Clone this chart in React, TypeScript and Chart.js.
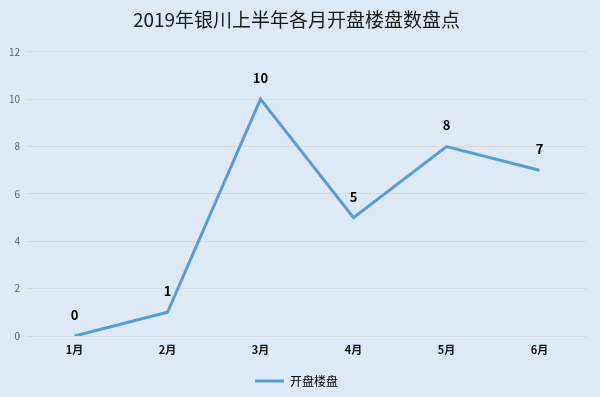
import React, { useEffect, useRef } from "react";
import { Chart, registerables } from "chart.js";

Chart.register(...registerables);

const categories = ["1月", "2月", "3月", "4月", "5月", "6月"];
const seriesName = "开盘楼盘";
const seriesValues = [0, 1, 10, 5, 8, 7];
const titleText = "2019年银川上半年各月开盘楼盘数盘点";

const FONT = "'Noto Sans CJK SC', 'Noto Sans', sans-serif";
const LINE_COLOR = "#5b9bd5";
const BG = "#dde9f5";

const bgPlugin = {
  id: "bgFill",
  beforeDraw(chart: any) {
    const { ctx, width, height } = chart;
    ctx.save();
    ctx.fillStyle = BG;
    ctx.fillRect(0, 0, width, height);
    ctx.restore();
  },
};

const labelPlugin = {
  id: "pointLabels",
  afterDatasetsDraw(chart: any) {
    const { ctx } = chart;
    const meta = chart.getDatasetMeta(0);
    const data = chart.data.datasets[0].data;
    ctx.save();
    ctx.font = `bold 13px ${FONT}`;
    ctx.fillStyle = "#000";
    ctx.textAlign = "center";
    ctx.textBaseline = "middle";
    meta.data.forEach((pt: any, i: number) => {
      ctx.fillText(String(data[i]), pt.x, pt.y - 21);
    });
    ctx.restore();
  },
};

export default function App() {
  const ref = useRef<HTMLCanvasElement | null>(null);
  useEffect(() => {
    document.body.style.margin = "0";
    const canvas = ref.current!;
    const chart = new Chart(canvas, {
      type: "line",
      data: {
        labels: categories,
        datasets: [
          {
            label: seriesName,
            data: seriesValues,
            borderColor: LINE_COLOR,
            backgroundColor: LINE_COLOR,
            borderWidth: 3,
            pointRadius: 0,
            tension: 0,
          },
        ],
      },
      options: {
        animation: false,
        responsive: false,
        maintainAspectRatio: false,
        layout: { padding: { left: 7, right: 14, top: 0, bottom: 0 } },
        plugins: {
          title: {
            display: true,
            text: titleText,
            color: "#1a1a1a",
            font: { family: FONT, size: 19, weight: "normal" },
            padding: { top: 8, bottom: 21 },
          },
          legend: {
            display: true,
            position: "bottom",
            labels: {
              color: "#222",
              font: { family: FONT, size: 12 },
              boxWidth: 29,
              boxHeight: 3,
              padding: 10,
              generateLabels: () => [
                {
                  text: seriesName,
                  fillStyle: LINE_COLOR,
                  strokeStyle: LINE_COLOR,
                  lineWidth: 0,
                  hidden: false,
                  datasetIndex: 0,
                },
              ],
            },
          },
          tooltip: { enabled: false },
        },
        scales: {
          x: {
            offset: true,
            grid: { display: false, drawTicks: false },
            border: { display: false },
            ticks: {
              color: "#111",
              font: { family: FONT, size: 11, weight: "bold" },
              padding: 7,
              maxRotation: 0,
            },
            afterFit(scale: any) {
              scale.height = 29;
            },
          },
          y: {
            min: 0,
            max: 12,
            ticks: {
              stepSize: 2,
              color: "#666",
              font: { family: FONT, size: 10 },
              padding: 8,
            },
            grid: { color: "#d4d9df", drawTicks: false, lineWidth: 1 },
            border: { display: false },
            afterFit(scale: any) {
              scale.width = 21;
            },
          },
        },
      },
      plugins: [bgPlugin, labelPlugin],
    });
    return () => chart.destroy();
  }, []);
  return (
    <div style={{ width: 600, height: 397, position: "relative" }}>
      <canvas ref={ref} width={600} height={397} style={{ display: "block" }} />
    </div>
  );
}
